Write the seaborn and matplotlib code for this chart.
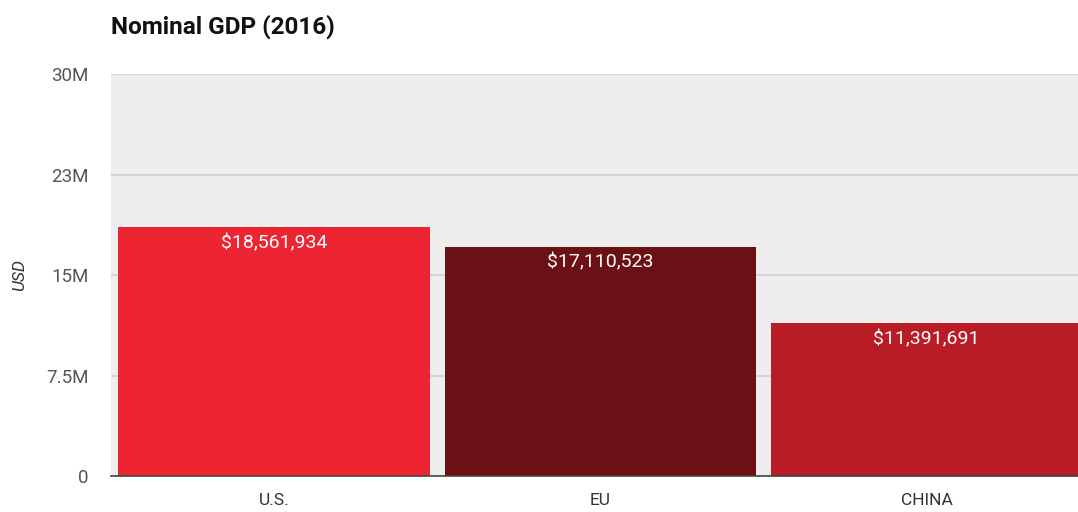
import matplotlib
matplotlib.use("Agg")
import matplotlib.pyplot as plt
import seaborn as sns
import pandas as pd
from matplotlib.ticker import FixedLocator, FixedFormatter

# Nominal GDP by economy, 2016 (USD)
regions = ["U.S.", "EU", "CHINA"]
gdp_usd = [18561934, 17110523, 11391691]
bar_colors = ["#ED2431", "#6B1116", "#BA1C26"]
y_ticks = [0, 7.5e6, 15e6, 22.5e6, 30e6]
y_tick_labels = ["0", "7.5M", "15M", "23M", "30M"]

df = pd.DataFrame({"region": regions, "gdp": gdp_usd})

sns.set_theme(style="white")
plt.rcParams["font.family"] = ["Roboto", "DejaVu Sans"]

fig = plt.figure(figsize=(10.78, 5.12), dpi=100)
ax = fig.add_axes([0.103, 0.0703, 0.908, 0.785])
ax.set_facecolor("#EEEEEE")

sns.barplot(data=df, x="region", y="gdp", hue="region",
            palette=dict(zip(regions, bar_colors)), order=regions,
            width=0.955, saturation=1, legend=False, ax=ax, zorder=3,
            linewidth=0, edgecolor="none")

ax.set_ylim(0, 30e6)
ax.set_xlim(-0.5, 2.5)
ax.yaxis.set_major_locator(FixedLocator(y_ticks))
ax.yaxis.set_major_formatter(FixedFormatter(y_tick_labels))
ax.grid(axis="y", color="#D2D2D2", linewidth=1.3, zorder=0)
ax.set_axisbelow(True)

for s in ["top", "right", "left"]:
    ax.spines[s].set_visible(False)
ax.spines["bottom"].set_color("#444444")
ax.spines["bottom"].set_linewidth(1.2)
ax.spines["bottom"].set_zorder(4)

ax.tick_params(axis="y", length=0, pad=16, labelsize=13.5, labelcolor="#555555")
ax.tick_params(axis="x", length=0, pad=12, labelsize=12.5, labelcolor="#333333")
ax.set_xlabel("")
ax.set_ylabel("USD", fontsize=12.5, style="italic", color="#333333", labelpad=14)

for i, v in enumerate(gdp_usd):
    ax.text(i, v - 0.5e6, f"${v:,}", ha="center", va="top",
            color="white", fontsize=14, zorder=5)

fig.text(0.103, 0.948, "Nominal GDP (2016)", fontsize=17.5, fontweight="bold",
         color="#111111", ha="left", va="center")

fig.savefig("out.png", dpi=100)
